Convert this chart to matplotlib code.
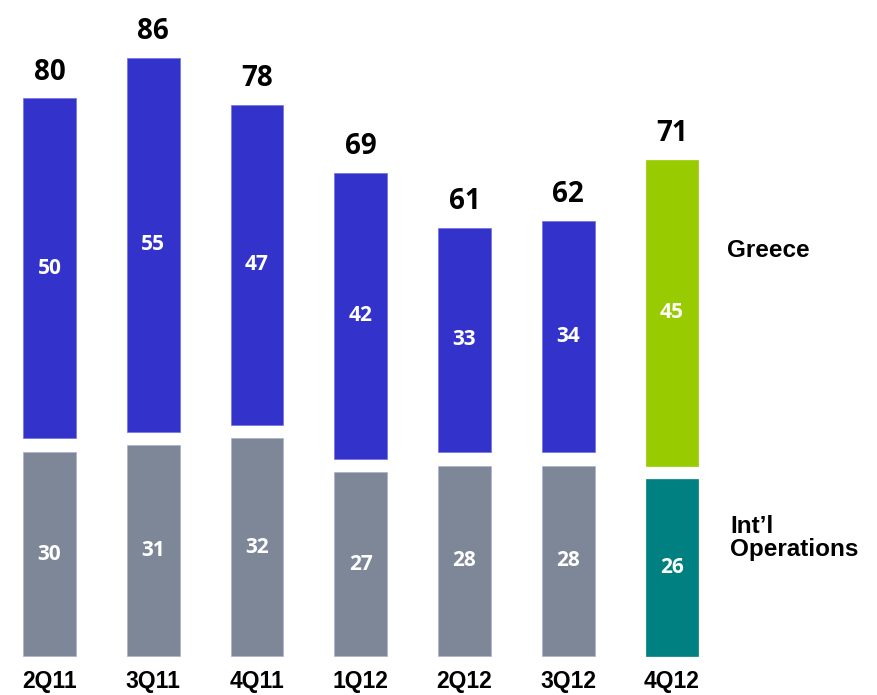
import numpy as np
import matplotlib.pyplot as plt

quarters = ["2Q11", "3Q11", "4Q11", "1Q12", "2Q12", "3Q12", "4Q12"]
intl = [30, 31, 32, 27, 28, 28, 26]
greece = [50, 55, 47, 42, 33, 34, 45]
totals = [80, 86, 78, 69, 61, 62, 71]

gray, blue = "#7D8797", "#3333CC"
teal, green = "#008080", "#99CC00"
gap = 2.0  # white space between the two stacked segments

fig = plt.figure(figsize=(8.77, 6.95), dpi=100)
ax = fig.add_axes([0, 0, 1, 1])
ax.set_xlim(-0.477, 7.976)
ax.set_ylim(-5.735, 96.47)
ax.axis("off")

x = np.arange(len(quarters))
low_cols = [gray] * 6 + [teal]
top_cols = [blue] * 6 + [green]
low_edges = ["#A9B0D0"] * 6 + [teal]
top_edges = ["#7070E0"] * 6 + [green]
w = 0.51

ax.bar(x, intl, width=w, color=low_cols, edgecolor=low_edges, linewidth=0.5)
top_base = np.array(intl) + gap
ax.bar(x, greece, width=w, bottom=top_base, color=top_cols,
       edgecolor=top_edges, linewidth=0.5)

num_font = dict(family="Open Sans", weight="bold")
lab_font = dict(family="Liberation Sans", weight="bold")

for i in range(len(quarters)):
    ax.text(x[i], intl[i] / 2, str(intl[i]), ha="center", va="center",
            color="white", fontsize=15, **num_font)
    ax.text(x[i], top_base[i] + greece[i] / 2, str(greece[i]), ha="center",
            va="center", color="white", fontsize=15, **num_font)
    ax.annotate(str(totals[i]), (x[i], top_base[i] + greece[i]),
                xytext=(0, 13.5), textcoords="offset points", ha="center",
                va="baseline", fontsize=20, color="black", **num_font)
    ax.text(x[i], -3.8, quarters[i], ha="center", va="center",
            fontsize=16.5, color="black", **lab_font)

# series names to the right of the last bar
ax.text(6.53, 59.6, "Greece", ha="left", va="center", fontsize=17.5,
        color="black", **lab_font)
ax.text(6.56, 17.4, "Int\u2019l\nOperations", ha="left", va="center",
        fontsize=17.5, color="black", linespacing=1.0, **lab_font)

plt.savefig("out.png", dpi=100)
